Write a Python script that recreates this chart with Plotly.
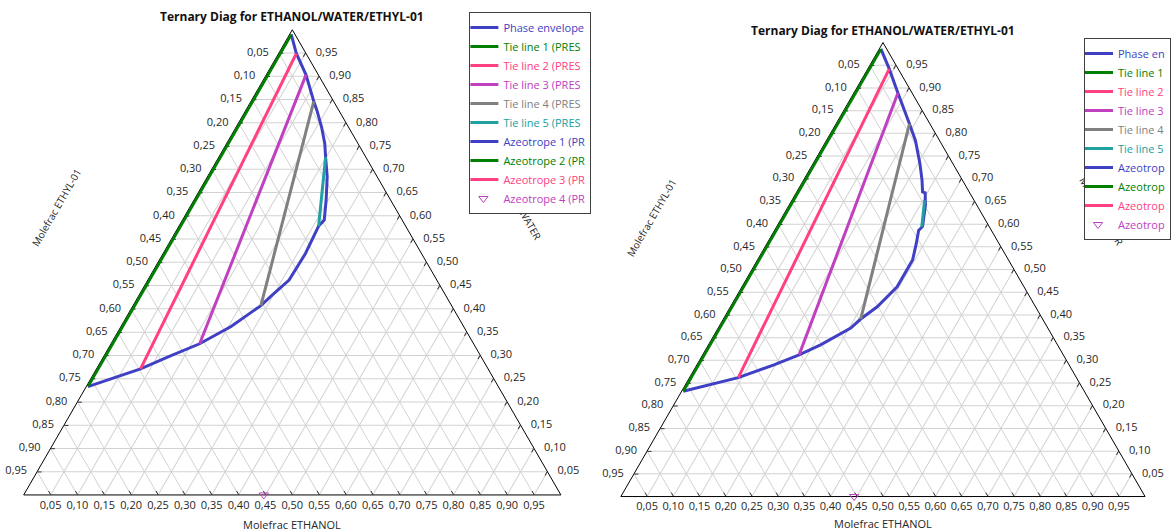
import plotly.graph_objects as go

W, H = 1171, 531

# ---------------- data ----------------
tick_values = [0.05, 0.10, 0.15, 0.20, 0.25, 0.30, 0.35, 0.40, 0.45, 0.50,
               0.55, 0.60, 0.65, 0.70, 0.75, 0.80, 0.85, 0.90, 0.95]
tick_labels = ["0,95", "0,90", "0,85", "0,80", "0,75", "0,70", "0,65", "0,60", "0,55", "0,50",
               "0,45", "0,40", "0,35", "0,30", "0,25", "0,20", "0,15", "0,10", "0,05"]

# left diagram (WATER = top vertex, ETHANOL = bottom-right vertex, ETHYL-01 = rest)
# (edge points use ethanol 0.003 so the 3px line is not cut by the triangle clip)
left_env_water = [0.990, 0.949, 0.903, 0.846, 0.826, 0.791, 0.755, 0.726, 0.684, 0.634, 0.591,
                  0.578, 0.519, 0.462, 0.430, 0.407, 0.362, 0.325, 0.298, 0.271, 0.233]
left_env_ethanol = [0.003, 0.033, 0.074, 0.117, 0.133, 0.159, 0.183, 0.199, 0.223, 0.246, 0.264,
                    0.260, 0.265, 0.263, 0.248, 0.238, 0.205, 0.165, 0.122, 0.082, 0.003]
left_tie_water = [[0.990, 0.233], [0.949, 0.271], [0.903, 0.325], [0.846, 0.407], [0.726, 0.578]]
left_tie_ethanol = [[0.003, 0.003], [0.033, 0.082], [0.074, 0.165], [0.117, 0.238], [0.199, 0.260]]

# right diagram
right_env_water = [0.986, 0.942, 0.889, 0.821, 0.784, 0.733, 0.697, 0.671, 0.669, 0.642, 0.595, 0.586,
                   0.557, 0.521, 0.462, 0.418, 0.391, 0.371, 0.334, 0.312, 0.290, 0.262, 0.232]
right_env_ethanol = [0.003, 0.041, 0.084, 0.140, 0.170, 0.204, 0.226, 0.240, 0.246, 0.260, 0.278, 0.275,
                     0.285, 0.296, 0.296, 0.280, 0.262, 0.253, 0.214, 0.184, 0.147, 0.093, 0.003]
right_tie_water = [[0.986, 0.232], [0.942, 0.262], [0.889, 0.312], [0.821, 0.391], [0.653, 0.594]]
right_tie_ethanol = [[0.003, 0.003], [0.041, 0.093], [0.084, 0.184], [0.140, 0.262], [0.253, 0.277]]

# azeotropes (1-3 shown as lines with a single point, 4 as marker)
azeo_water = [0.310, 0.000, 0.000, 0.000]
azeo_ethanol = [0.000, 0.900, 0.450, 0.447]
right_azeo_ethanol = [0.000, 0.900, 0.450, 0.445]

left_names = ["Phase envelope", "Tie line 1 (PRES", "Tie line 2 (PRES", "Tie line 3 (PRES",
              "Tie line 4 (PRES", "Tie line 5 (PRES", "Azeotrope 1 (PR", "Azeotrope 2 (PR",
              "Azeotrope 3 (PR", "Azeotrope 4 (PR"]
right_names = ["Phase en", "Tie line 1", "Tie line 2", "Tie line 3", "Tie line 4", "Tie line 5",
               "Azeotrop", "Azeotrop", "Azeotrop", "Azeotrop"]

BLUE, GREEN, PINK, PURPLE, GRAY, TEAL = "#4040c4", "#008000", "#ff4081", "#c040c0", "#808080", "#20a0a0"
tie_colors = [GREEN, PINK, PURPLE, GRAY, TEAL]
azeo_colors = [BLUE, GREEN, PINK, PURPLE]
FONT = "Open Sans"
NB = "\u00a0"


def lbl(text, color):
    return f"<span style='color:{color}'>{text}</span>"


fig = go.Figure()


def add_diagram(subplot, legend, names, env_w, env_e, tie_w, tie_e, az_e):
    fig.add_trace(go.Scatterternary(
        a=env_w, c=env_e, mode="lines", name=lbl(names[0], BLUE),
        line=dict(color=BLUE, width=3), subplot=subplot, legend=legend, cliponaxis=False))
    for i in range(5):
        fig.add_trace(go.Scatterternary(
            a=tie_w[i], c=tie_e[i], mode="lines", name=lbl(names[1 + i], tie_colors[i]),
            line=dict(color=tie_colors[i], width=3), subplot=subplot, legend=legend,
            cliponaxis=False))
    for i in range(3):
        fig.add_trace(go.Scatterternary(
            a=[azeo_water[i]], c=[az_e[i]], mode="lines", name=lbl(names[6 + i], azeo_colors[i]),
            line=dict(color=azeo_colors[i], width=3), subplot=subplot, legend=legend,
            cliponaxis=False))
    fig.add_trace(go.Scatterternary(
        a=[azeo_water[3]], c=[az_e[3]], mode="markers", name=lbl(names[9], PURPLE),
        marker=dict(symbol="triangle-down-open", size=8, color=PURPLE, line=dict(width=1)),
        subplot=subplot, legend=legend, cliponaxis=False))


add_diagram("ternary", "legend", left_names, left_env_water, left_env_ethanol,
            left_tie_water, left_tie_ethanol, azeo_ethanol)
add_diagram("ternary2", "legend2", right_names, right_env_water, right_env_ethanol,
            right_tie_water, right_tie_ethanol, right_azeo_ethanol)


def axis(texts):
    return dict(tickmode="array", tickvals=tick_values, ticktext=texts,
                showgrid=True, gridcolor="#d2d2d2", gridwidth=1,
                showline=True, linecolor="#000000", linewidth=1,
                ticks="inside", ticklen=4, tickcolor="#333333", tickwidth=1,
                tickfont=dict(size=11, color="#262626", family=FONT),
                title=dict(text=""), layer="below traces", min=0)


left_side_labels = [t + NB * 3 for t in tick_labels]
right_side_labels = [NB * 3 + t for t in tick_labels]


def tern(x0, x1, ytop, ybot):
    return dict(domain=dict(x=[x0 / W, x1 / W], y=[1 - ybot / H, 1 - ytop / H]),
                sum=1, bgcolor="white",
                aaxis=axis(left_side_labels), baxis=axis(tick_labels), caxis=axis(right_side_labels))


def px(x):
    return x / W


def py(y):
    return 1 - y / H


annotations = []
for cx, ty, by in [(293, 16.5, 524), (886, 31, 523)]:
    annotations.append(dict(x=px(cx), y=py(ty), xref="paper", yref="paper", showarrow=False,
                            text="<b>Ternary Diag for ETHANOL/WATER/ETHYL-01</b>",
                            font=dict(size=12, color="#111111", family=FONT),
                            xanchor="center", yanchor="middle"))
    annotations.append(dict(x=px(cx), y=py(by), xref="paper", yref="paper", showarrow=False,
                            text="Molefrac ETHANOL", font=dict(size=11, color="#262626", family=FONT),
                            xanchor="center", yanchor="middle"))
for cx, cy in [(56.2, 208), (653.5, 218)]:
    annotations.append(dict(x=px(cx), y=py(cy), xref="paper", yref="paper", showarrow=False,
                            text="Molefrac ETHYL-01", textangle=-60,
                            font=dict(size=10, color="#262626", family=FONT),
                            xanchor="center", yanchor="middle"))

shapes = []
for cx, cy in [(520.5, 206), (1104.5, 211.5)]:
    shapes.append(dict(type="line", xref="paper", yref="paper", layer="above",
                       x0=px(cx - 10), y0=py(cy - 17.3), x1=px(cx + 10), y1=py(cy + 17.3),
                       line=dict(color="rgba(0,0,0,0)", width=0),
                       label=dict(text="Molefrac WATER", textangle=60, textposition="middle",
                                  xanchor="center", yanchor="middle", padding=0,
                                  font=dict(size=10, color="#262626", family=FONT))))

legend_common = dict(xanchor="left", yanchor="top", bgcolor="white", bordercolor="#404040",
                     borderwidth=1, font=dict(size=11, family=FONT), indentation=-7,
                     tracegroupgap=0)

fig.update_layout(
    width=W, height=H, margin=dict(l=0, r=0, t=0, b=0),
    paper_bgcolor="white", plot_bgcolor="white",
    font=dict(family=FONT, color="#262626"),
    ternary=tern(23.8, 562.8, 29.0, 495.7),
    ternary2=tern(623.0, 1149.0, 41.8, 497.3),
    legend=dict(x=px(471), y=py(12), **legend_common),
    legend2=dict(x=px(1088), y=py(38), **legend_common),
    annotations=annotations, shapes=shapes,
)

fig.write_html("out.html")
